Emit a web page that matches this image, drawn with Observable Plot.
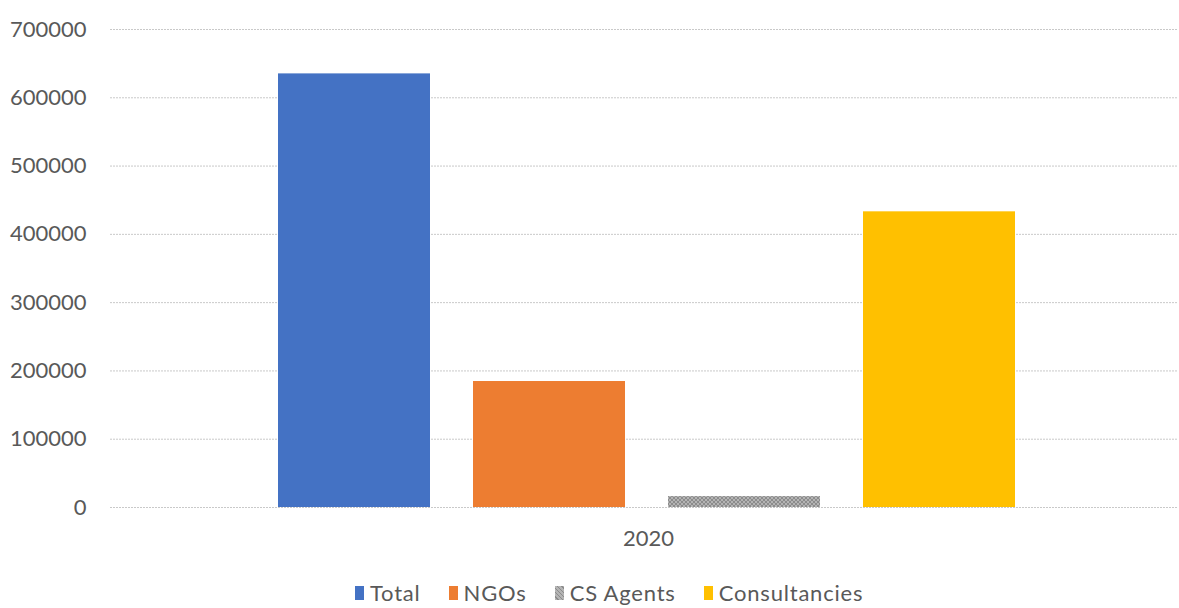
<!DOCTYPE html>
<html>
<head>
<meta charset="utf-8">
<script src="https://cdn.jsdelivr.net/npm/d3@7"></script>
<script src="https://cdn.jsdelivr.net/npm/@observablehq/plot@0.6"></script>
<style>
  html, body { margin: 0; padding: 0; background: #fff; overflow: hidden; }
  #chart { width: 1179px; }
  .legend { display: flex; justify-content: flex-start; align-items: center; height: 30px; margin-top: 0; padding-top: 3px;
    font-family: Lato, "Open Sans", sans-serif; font-size: 22px; line-height: 1.05; letter-spacing: 0.8px; color: #595959; padding-left: 355px; }
  .legend .item { display: flex; align-items: center; margin: 0 28px 0 0; }
  .legend .sw { width: 9px; height: 14px; margin-right: 6px; }
</style>
</head>
<body>
<div id="chart"></div>
<script>
const years = ["2020"];
const series = ["Total", "NGOs", "CS Agents", "Consultancies"];
const values = [635000, 184500, 16000, 433000];
const colors = ["#4472C4", "#ED7D31", "url(#csHatch)", "#FFC000"];
const yTicks = [0, 100000, 200000, 300000, 400000, 500000, 600000, 700000];

const data = series.map((s, i) => ({series: s, value: values[i], year: years[0]}));

const font = "Lato, 'Open Sans', sans-serif";

const plot = Plot.plot({
  width: 1179,
  height: 575,
  marginLeft: 110,
  marginRight: 1,
  marginTop: 29,
  marginBottom: 68,
  style: {fontFamily: font, fontSize: "22px", color: "#595959", background: "#fff"},
  x: {domain: series, range: [256.5, 1037.5], paddingInner: 0.22, paddingOuter: 0.11, axis: null},
  y: {domain: [0, 700000], ticks: yTicks, tickFormat: d3.format("d"), tickSize: 0, tickPadding: 24, label: null},
  color: {domain: series, range: colors},
  marks: [
    Plot.ruleY(yTicks, {stroke: "#c9c9c9", strokeWidth: 1, strokeDasharray: "2,1"}),
    Plot.barY(data, {x: "series", y: "value", fill: "series"}),
    Plot.text(years, {text: d => d, frameAnchor: "bottom", dy: 38, dx: 4, fill: "#595959", fontSize: 22})
  ]
});

// hatch pattern for CS Agents
const svg = d3.select(plot);
const defs = svg.insert("defs", ":first-child");
const pat = defs.append("pattern").attr("id", "csHatch").attr("patternUnits", "userSpaceOnUse")
  .attr("width", 4).attr("height", 4);
pat.append("rect").attr("width", 4).attr("height", 4).attr("fill", "#b4b4b4");
pat.append("path").attr("d", "M0,0L4,4M4,0L0,4").attr("stroke", "#8c8c8c").attr("stroke-width", 1);

document.getElementById("chart").appendChild(plot);

const legend = d3.select("#chart").append("div").attr("class", "legend");
series.forEach((s, i) => {
  const it = legend.append("div").attr("class", "item");
  const sw = it.append("div").attr("class", "sw");
  if (colors[i].startsWith("url")) sw.style("background", "repeating-linear-gradient(45deg,#b4b4b4 0 2px,#8c8c8c 2px 3px)");
  else sw.style("background", colors[i]);
  it.append("span").text(s);
});
</script>
</body>
</html>
